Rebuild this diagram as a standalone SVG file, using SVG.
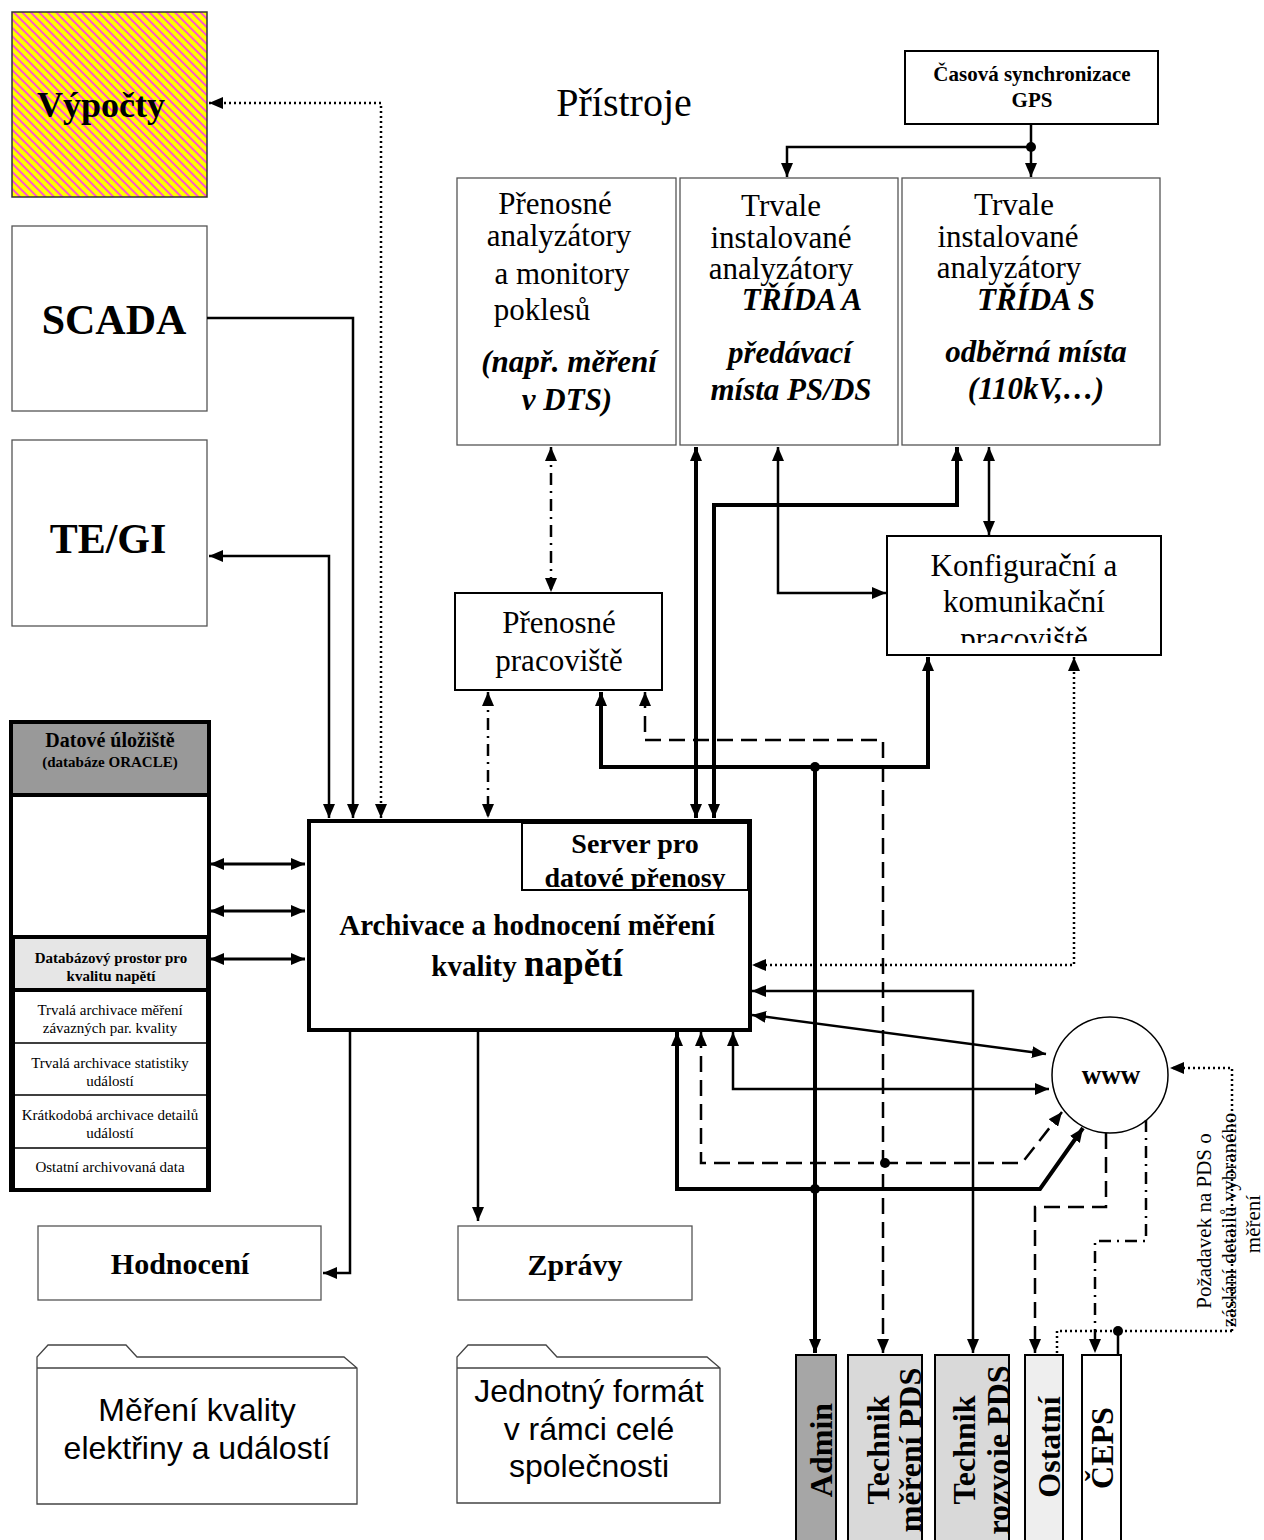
<svg xmlns="http://www.w3.org/2000/svg" width="1264" height="1540" viewBox="0 0 1264 1540">
<defs>
<style>
.serif{font-family:"Liberation Serif","Times New Roman",serif}
.sans{font-family:"Liberation Sans",Arial,sans-serif}
.b{font-weight:bold}
.bi{font-weight:bold;font-style:italic}
.thin{fill:#fff;stroke:#555;stroke-width:1.3}
.box{fill:#fff;stroke:#000;stroke-width:2}
.c{fill:none;stroke:#000;stroke-width:2.5}
.w4{stroke-width:4}
.w3{stroke-width:3}
.dash{stroke-dasharray:16 8}
.dot{stroke-dasharray:2 3}
.dd{stroke-dasharray:12 6 2 6}
.me{marker-end:url(#ah)}
.ms{marker-start:url(#ah)}
.jn{fill:#000}
</style>
<marker id="ah" viewBox="0 0 14 12" refX="14" refY="6" markerWidth="14" markerHeight="12" markerUnits="userSpaceOnUse" orient="auto-start-reverse"><path d="M0,0 L14,6 L0,12 z" fill="#000"/></marker>
<pattern id="hatch" width="6" height="6" patternUnits="userSpaceOnUse" patternTransform="rotate(-45)"><rect width="6" height="6" fill="#ffff00"/><rect width="2" height="6" fill="#ff55cc"/></pattern>
<clipPath id="cpKonf"><rect x="888" y="537" width="272" height="106"/></clipPath>
<clipPath id="cpSrv"><rect x="523" y="824" width="224" height="65"/></clipPath>
<clipPath id="cpAdmin"><rect x="796" y="1356" width="40" height="184"/></clipPath>
<clipPath id="cpTm"><rect x="848" y="1356" width="73" height="184"/></clipPath>
<clipPath id="cpTr"><rect x="935" y="1356" width="73" height="184"/></clipPath>
<clipPath id="cpOst"><rect x="1025" y="1356" width="38" height="184"/></clipPath>
<clipPath id="cpCeps"><rect x="1082" y="1356" width="39" height="184"/></clipPath>
</defs>
<rect width="1264" height="1540" fill="#fff"/>

<g id="vypocty">
<rect x="12" y="12" width="195" height="185" fill="url(#hatch)" stroke="#333" stroke-width="1.5"/>
<text x="101" y="117" text-anchor="middle" class="serif b" font-size="36">Výpočty</text>
</g>
<g id="scada">
<rect x="12" y="226" width="195" height="185" class="thin"/>
<text x="114" y="334" text-anchor="middle" class="serif b" font-size="42">SCADA</text>
</g>
<g id="tegi">
<rect x="12" y="440" width="195" height="186" class="thin"/>
<text x="108" y="553" text-anchor="middle" class="serif b" font-size="42">TE/GI</text>
</g>

<g id="pristroje-label">
<text x="624" y="116" text-anchor="middle" class="serif" font-size="40">Přístroje</text>
</g>

<g id="gps">
<rect x="905" y="51" width="253" height="73" class="box"/>
<text x="1032" y="81" text-anchor="middle" class="serif b" font-size="21">Časová synchronizace</text>
<text x="1032" y="107" text-anchor="middle" class="serif b" font-size="21">GPS</text>
</g>

<g id="prenosne-analyzatory" class="serif" font-size="31" text-anchor="middle">
<rect x="457" y="178" width="219" height="267" class="thin"/>
<text x="555" y="214">Přenosné</text>
<text x="559" y="246">analyzátory</text>
<text x="562" y="284">a monitory</text>
<text x="542" y="320">poklesů</text>
<text x="569" y="372" class="bi">(např. měření</text>
<text x="567" y="410" class="bi">v DTS)</text>
</g>

<g id="trida-a" class="serif" font-size="31" text-anchor="middle">
<rect x="680" y="178" width="218" height="267" class="thin"/>
<text x="781" y="216">Trvale</text>
<text x="781" y="248">instalované</text>
<text x="781" y="279">analyzátory</text>
<text x="802" y="310" class="bi">TŘÍDA A</text>
<text x="790" y="363" class="bi">předávací</text>
<text x="791" y="400" class="bi">místa PS/DS</text>
</g>

<g id="trida-s" class="serif" font-size="31" text-anchor="middle">
<rect x="902" y="178" width="258" height="267" class="thin"/>
<text x="1014" y="215">Trvale</text>
<text x="1008" y="247">instalované</text>
<text x="1009" y="278">analyzátory</text>
<text x="1036" y="310" class="bi">TŘÍDA S</text>
<text x="1036" y="362" class="bi">odběrná místa</text>
<text x="1036" y="399" class="bi">(110kV,…)</text>
</g>

<g id="konfig" class="serif" font-size="31" text-anchor="middle">
<rect x="887" y="536" width="274" height="119" class="box"/>
<g clip-path="url(#cpKonf)">
<text x="1024" y="576">Konfigurační a</text>
<text x="1024" y="612">komunikační</text>
<text x="1024" y="649">pracoviště</text>
</g>
</g>

<g id="prenosne-pracoviste" class="serif" font-size="31" text-anchor="middle">
<rect x="455" y="593" width="207" height="97" class="box"/>
<text x="559" y="633">Přenosné</text>
<text x="559" y="671">pracoviště</text>
</g>

<g id="databaze">
<rect x="11" y="722" width="198" height="215" fill="#fff" stroke="#000" stroke-width="4"/>
<rect x="11" y="722" width="198" height="73" fill="#999" stroke="#000" stroke-width="4"/>
<rect x="13" y="937" width="195" height="253" fill="#fff" stroke="#000" stroke-width="4"/>
<rect x="13" y="937" width="195" height="53" fill="#e6e6e6" stroke="#000" stroke-width="4"/>
<path d="M15,1043 H206 M15,1095 H206 M15,1148 H206" stroke="#000" stroke-width="1.5" fill="none"/>
<rect x="11" y="722" width="198" height="468" fill="none" stroke="#000" stroke-width="4"/>
<text x="110" y="747" text-anchor="middle" class="serif b" font-size="20">Datové úložiště</text>
<text x="110" y="767" text-anchor="middle" class="serif b" font-size="15">(databáze ORACLE)</text>
<text x="111" y="963" text-anchor="middle" class="serif b" font-size="15">Databázový prostor pro</text>
<text x="111" y="981" text-anchor="middle" class="serif b" font-size="15">kvalitu napětí</text>
<g class="serif" font-size="15" text-anchor="middle">
<text x="110" y="1015">Trvalá archivace měření</text>
<text x="110" y="1033">závazných par. kvality</text>
<text x="110" y="1068">Trvalá archivace statistiky</text>
<text x="110" y="1086">událostí</text>
<text x="110" y="1120">Krátkodobá archivace detailů</text>
<text x="110" y="1138">událostí</text>
<text x="110" y="1172">Ostatní archivovaná data</text>
</g>
</g>

<g id="server">
<rect x="309" y="821" width="441" height="209" fill="#fff" stroke="#000" stroke-width="4"/>
<rect x="522" y="823" width="226" height="67" fill="#fff" stroke="#000" stroke-width="2"/>
<g clip-path="url(#cpSrv)" class="serif b" font-size="28" text-anchor="middle">
<text x="635" y="853">Server pro</text>
<text x="635" y="887">datové přenosy</text>
</g>
<text x="527" y="935" text-anchor="middle" class="serif b" font-size="29">Archivace a hodnocení měření</text>
<text x="527" y="976" text-anchor="middle" class="serif b"><tspan font-size="29">kvality </tspan><tspan font-size="37">napětí</tspan></text>
</g>

<g id="www">
<circle cx="1110" cy="1075" r="58" fill="#fff" stroke="#000" stroke-width="1.5"/>
<text x="1111" y="1084" text-anchor="middle" class="serif b" font-size="27">www</text>
</g>

<g id="hodnoceni">
<rect x="38" y="1226" width="283" height="74" class="thin"/>
<text x="180" y="1274" text-anchor="middle" class="serif b" font-size="30">Hodnocení</text>
</g>
<g id="zpravy">
<rect x="458" y="1226" width="234" height="74" class="thin"/>
<text x="575" y="1275" text-anchor="middle" class="serif b" font-size="30">Zprávy</text>
</g>

<g id="folder-mereni">
<path d="M37,1504 V1357 L48,1345 H126 L137,1357 H344 L357,1368 V1504 Z M37,1368 H357" fill="#fff" stroke="#444" stroke-width="1.3"/>
<text x="197" y="1421" text-anchor="middle" class="sans" font-size="32">Měření kvality</text>
<text x="197" y="1459" text-anchor="middle" class="sans" font-size="32">elektřiny a událostí</text>
</g>
<g id="folder-format">
<path d="M457,1503 V1357 L468,1345 H546 L557,1357 H707 L720,1368 V1503 Z M457,1368 H720" fill="#fff" stroke="#444" stroke-width="1.3"/>
<text x="589" y="1402" text-anchor="middle" class="sans" font-size="32">Jednotný formát</text>
<text x="589" y="1440" text-anchor="middle" class="sans" font-size="32">v rámci celé</text>
<text x="589" y="1477" text-anchor="middle" class="sans" font-size="32">společnosti</text>
</g>

<g id="admin">
<rect x="796" y="1355" width="40" height="190" fill="#a6a6a6" stroke="#000" stroke-width="2"/>
<g clip-path="url(#cpAdmin)"><text transform="translate(832,1450) rotate(-90)" text-anchor="middle" class="serif b" font-size="32">Admin</text></g>
</g>
<g id="technik-mereni">
<rect x="848" y="1355" width="74" height="190" fill="#d9d9d9" stroke="#000" stroke-width="2"/>
<g clip-path="url(#cpTm)" class="serif b" font-size="32" text-anchor="middle">
<text transform="translate(889,1450) rotate(-90)">Technik</text>
<text transform="translate(921,1450) rotate(-90)">měření PDS</text>
</g>
</g>
<g id="technik-rozvoje">
<rect x="935" y="1355" width="74" height="190" fill="#d9d9d9" stroke="#000" stroke-width="2"/>
<g clip-path="url(#cpTr)" class="serif b" font-size="32" text-anchor="middle">
<text transform="translate(975,1450) rotate(-90)">Technik</text>
<text transform="translate(1009,1450) rotate(-90)">rozvoje PDS</text>
</g>
</g>
<g id="ostatni">
<rect x="1025" y="1355" width="38" height="190" fill="#eeeeee" stroke="#000" stroke-width="2"/>
<g clip-path="url(#cpOst)"><text transform="translate(1060,1447) rotate(-90)" text-anchor="middle" class="serif b" font-size="32">Ostatní</text></g>
</g>
<g id="ceps">
<rect x="1082" y="1355" width="39" height="190" fill="#fff" stroke="#000" stroke-width="2"/>
<g clip-path="url(#cpCeps)"><text transform="translate(1113,1448) rotate(-90)" text-anchor="middle" class="serif b" font-size="32">ČEPS</text></g>
</g>

<g id="note" class="serif" font-size="21" text-anchor="middle">
<text transform="translate(1211,1221) rotate(-90)">Požadavek na PDS o</text>
<text transform="translate(1236,1220) rotate(-90)">záslání detailů vybraného</text>
<text transform="translate(1260,1224) rotate(-90)">měření</text>
</g>

<g id="connectors">
<path class="c dot ms me" d="M209,103 H381 V818"/>
<path class="c me" d="M207,318 H353 V818"/>
<path class="c ms me" d="M209,556 H329 V818"/>
<path class="c w3 ms me" d="M210,864 H305"/>
<path class="c w3 ms me" d="M210,911 H305"/>
<path class="c w3 ms me" d="M210,959 H305"/>
<path class="c me" d="M1031,124 V147 H787 V177"/>
<path class="c me" d="M1031,147 V177"/>
<circle class="jn" cx="1031" cy="147" r="5"/>
<path class="c dd ms me" d="M551,447 V592"/>
<path class="c dd ms me" d="M488,692 V818"/>
<path class="c w4 ms me" d="M696,447 V818"/>
<path class="c w4 ms me" d="M714,818 V505 H957 V447"/>
<path class="c ms me" d="M778,447 V593 H886"/>
<path class="c ms me" d="M989,447 V535"/>
<path class="c w4 ms me" d="M601,692 V767 H928 V657"/>
<path class="c dash ms me" d="M645,692 V740 H883 V1353"/>
<path class="c w4 me" d="M815,767 V1353"/>
<circle class="jn" cx="815" cy="767" r="5"/>
<path class="c dot ms me" d="M1074,657 V965 H752"/>
<path class="c ms me" d="M752,991 H973 V1353"/>
<path class="c ms me" d="M752,1015 L1046,1054"/>
<path class="c ms me" d="M733,1032 V1089 H1049"/>
<path class="c dash ms me" d="M701,1032 V1163 H1022 L1062,1112"/>
<circle class="jn" cx="885" cy="1163" r="5"/>
<path class="c w4 ms me" d="M677,1032 V1189 H1040 L1083,1128"/>
<circle class="jn" cx="815" cy="1189" r="5"/>
<path class="c me" d="M350,1032 V1273 H323"/>
<path class="c me" d="M478,1032 V1221"/>
<path class="c dash me" d="M1106,1133 V1207 H1035 V1353"/>
<path class="c dd me" d="M1146,1120 V1241 H1095 V1353"/>
<path class="c dot me" d="M1232,1331 V1068 H1170"/>
<path class="c dot" d="M1232,1331 H1057 V1355"/>
<path class="c" d="M1118,1331 V1355"/>
<circle class="jn" cx="1118" cy="1331" r="5"/>
</g>
</svg>
